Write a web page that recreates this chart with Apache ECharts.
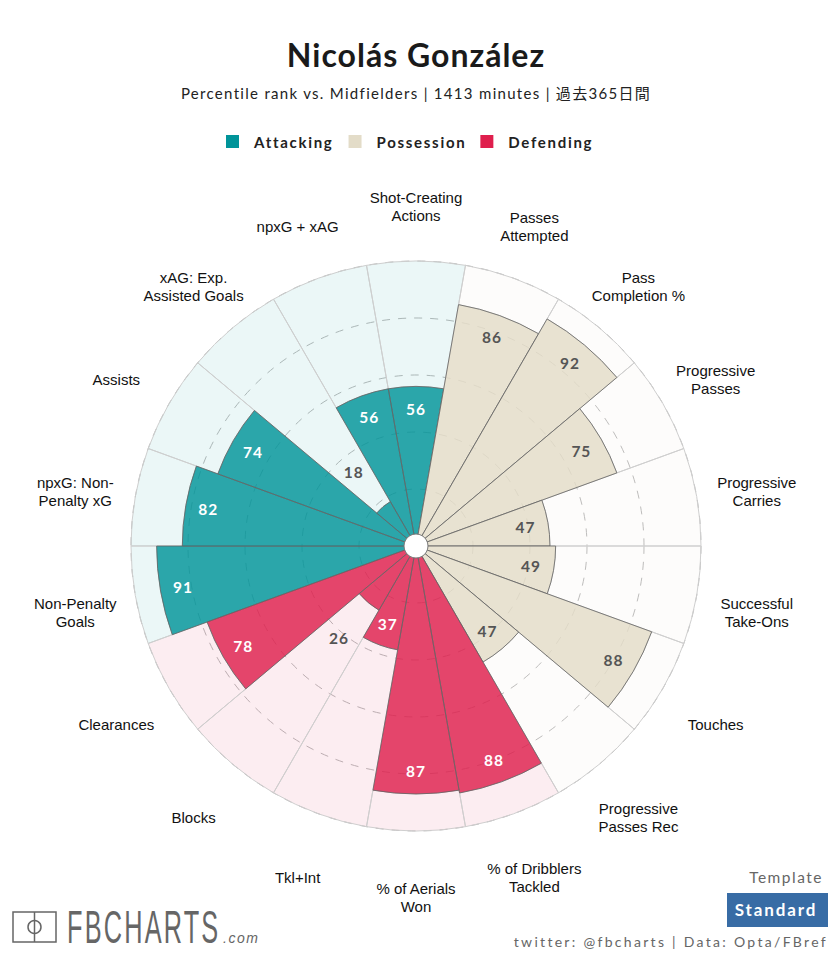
<!DOCTYPE html>
<html><head><meta charset="utf-8">
<script src="https://cdn.jsdelivr.net/npm/echarts@6/dist/echarts.min.js"></script>
<style>
html,body{margin:0;padding:0;background:#fff}
#c{width:832px;height:954px}
text{letter-spacing:1px}
text[style*="Liberation"]{letter-spacing:0}
text[style*="15px"][style*="Lato"]{letter-spacing:1.3px}
text[style*="15px"][style*="Lato"][style*="bold"]{letter-spacing:1.7px}
text[style*="15.5px"][style*="Lato"]{letter-spacing:1.5px}
text[style*="15.5px"][style*="Lato"][style*="bold"]{letter-spacing:1px}
text[style*="17px"][style*="Lato"]{letter-spacing:1.9px}
text[style*="14px"][style*="Lato"]{letter-spacing:2.3px}
text[style*="46px"]{letter-spacing:4px}
text[style*="italic"]{letter-spacing:1.5px}
</style></head><body><div id="c"></div>
<script>
const playerName = "Nicolás González";
const subtitleText = "Percentile rank vs. Midfielders | 1413 minutes | 過去365日間";
const categories = ["Shot-Creating\nActions","Passes\nAttempted","Pass\nCompletion %","Progressive\nPasses","Progressive\nCarries","Successful\nTake-Ons","Touches","Progressive\nPasses Rec","% of Dribblers\nTackled","% of Aerials\nWon","Tkl+Int","Blocks","Clearances","Non-Penalty\nGoals","npxG: Non-\nPenalty xG","Assists","xAG: Exp.\nAssisted Goals","npxG + xAG"];
const attacking  = [56,null,null,null,null,null,null,null,null,null,null,null,null,91,82,74,18,56];
const possession = [null,86,92,75,47,49,88,47,null,null,null,null,null,null,null,null,null,null];
const defending  = [null,null,null,null,null,null,null,null,88,87,37,26,78,null,null,null,null,null];

const TEAL='#009499', BEIGE='#E3DCC8', RED='#DF1F4D';
const FONT='Lato, "Noto Sans CJK JP", sans-serif';
const ARIAL='"Liberation Sans", Arial, sans-serif';
const valueOf = i => attacking[i]??possession[i]??defending[i];
const tint = i => attacking[i]!=null?'rgba(0,148,153,.08)':(possession[i]!=null?'rgba(227,220,200,.08)':'rgba(223,31,77,.08)');

const barSeries=(name,data,color)=>({
  name,type:'bar',coordinateSystem:'polar',data,stack:'all',barWidth:'100%',z:3,
  itemStyle:{color,opacity:.83,borderColor:'#666',borderWidth:1}
});
const labelData = categories.map((c,i)=>{
  const v=valueOf(i), low=v<30;
  const col = (low||possession[i]!=null)?'#555':'#fff';
  return {name:String(v),value:[low?v+16:v-8,i],label:{color:col}};
});
const nameData = categories.map((c,i)=>({name:c,value:[121.4,i]}));

const chart=echarts.init(document.getElementById('c'),null,{renderer:'svg',width:832,height:954});
chart.setOption({
  animation:false,backgroundColor:'#fff',
  title:[
    {text:playerName,left:'center',top:33,textStyle:{fontFamily:FONT,fontWeight:'bold',fontSize:32,color:'#1a1a1a'}},
    {text:subtitleText,left:'center',top:80,textStyle:{fontFamily:FONT,fontWeight:'normal',fontSize:15,color:'#222'}}
  ],
  legend:{
    left:221,top:129,selectedMode:false,itemWidth:13,itemHeight:13,itemGap:31,icon:'rect',
    textStyle:{fontFamily:FONT,fontWeight:'bold',fontSize:15,color:'#222',padding:[0,0,0,10]},
    data:[
      {name:'Attacking',itemStyle:{color:TEAL,opacity:1,borderWidth:0}},
      {name:'Possession',itemStyle:{color:BEIGE,opacity:1,borderWidth:0}},
      {name:'Defending',itemStyle:{color:RED,opacity:1,borderWidth:0}}
    ]
  },
  polar:{center:[416,546],radius:[0,285]},
  angleAxis:{
    type:'category',data:categories,startAngle:100,clockwise:true,
    axisLine:{show:false},axisTick:{show:false},splitLine:{show:false},axisLabel:{show:false}
  },
  radiusAxis:{
    min:0,max:100,interval:20,axisLine:{show:false},axisTick:{show:false},axisLabel:{show:false},
    splitLine:{show:true,lineStyle:{type:[8,8],color:'#bbb',width:1}}
  },
  series:[
    barSeries('Attacking',attacking,TEAL),
    barSeries('Possession',possession,BEIGE),
    barSeries('Defending',defending,RED),
    {name:'scale',type:'bar',coordinateSystem:'polar',stack:'all',barWidth:'100%',z:2,silent:true,
     data:categories.map((c,i)=>({value:100-valueOf(i),itemStyle:{color:tint(i)}})),
     itemStyle:{borderColor:'#cfcfcf',borderWidth:1}},
    {name:'values',type:'scatter',coordinateSystem:'polar',symbolSize:1,z:5,clip:false,
     itemStyle:{color:'rgba(0,0,0,0)'},data:labelData,
     label:{show:true,opacity:1,position:'inside',formatter:'{b}',fontFamily:FONT,fontWeight:'bold',fontSize:15.5}},
    {name:'names',type:'scatter',coordinateSystem:'polar',symbolSize:1,z:5,clip:false,
     itemStyle:{color:'rgba(0,0,0,0)'},data:nameData,
     label:{show:true,opacity:1,position:'inside',offset:[0,6],formatter:'{b}',fontFamily:ARIAL,fontSize:15,lineHeight:18,color:'#111',align:'center',verticalAlign:'middle'}},
    {name:'hub',type:'scatter',coordinateSystem:'polar',symbolSize:24,z:6,silent:true,
     itemStyle:{color:'#fff',borderColor:'#777',borderWidth:1,opacity:1},data:[[0,0]]}
  ],
  graphic:[
    {type:'rect',shape:{x:13,y:912,width:43,height:30},style:{fill:'none',stroke:'#666',lineWidth:1.5}},
    {type:'line',shape:{x1:34.5,y1:912,x2:34.5,y2:942},style:{stroke:'#666',lineWidth:1.5}},
    {type:'circle',shape:{cx:34.5,cy:927,r:6.5},style:{fill:'none',stroke:'#666',lineWidth:1.5}},
    {type:'text',x:67,y:904,scaleX:.55,style:{text:'FBCHARTS',fontFamily:'"Liberation Sans"',fontSize:46,fill:'#666'}},
    {type:'text',x:223,y:931,style:{text:'.com',fontFamily:ARIAL,fontStyle:'italic',fontSize:14,fill:'#666'}},
    {type:'text',x:823,y:869,style:{text:'Template',align:'right',fontFamily:FONT,fontSize:15.5,fill:'#666'}},
    {type:'rect',shape:{x:727,y:893,width:101,height:34},style:{fill:'#386CA5'}},
    {type:'text',x:776,y:901,style:{text:'Standard',align:'center',fontFamily:FONT,fontWeight:'bold',fontSize:17,fill:'#fff'}},
    {type:'text',x:828,y:934,style:{text:'twitter: @fbcharts | Data: Opta/FBref',align:'right',fontFamily:FONT,fontSize:14,fill:'#666'}}
  ]
});
</script></body></html>
